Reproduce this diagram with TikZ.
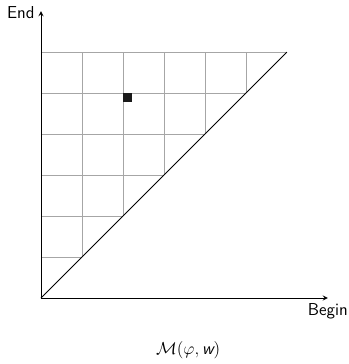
\documentclass[tikz,border=0pt]{standalone}
\usepackage{amsmath, amssymb}
\usepackage{xcolor}
\usepackage{tikz}
\usetikzlibrary{calc, positioning}

\begin{document}
\begin{tikzpicture}[>=stealth, font=\sffamily\large]

    % =================================================================
    % 1. KHUNG VÀ TỌA ĐỘ CHÍNH
    % =================================================================
    \useasboundingbox (-1,-1.61) rectangle (7.51,7.27);
    \coordinate (O) at (0,0);
    \coordinate (XEnd) at (7,0);
    \coordinate (YEnd) at (0,7);
    \coordinate (Corner) at (6,6);

    % =================================================================
    % 2. LƯỚI Ô VUÔNG (CHỈ PHẦN TAM GIÁC TRÊN)
    % =================================================================
    \begin{scope}
        \clip (O) -- (Corner) -- (0,6) -- cycle;
        \draw[gray!70, thin] (O) grid (Corner);
    \end{scope}

    % Đường chéo
    \draw[semithick] (O) -- (Corner);

    % Ô được đánh dấu
    \fill[black!90] (2,5) rectangle (2.22,4.78);

    % =================================================================
    % 3. HAI TRỤC VÀ NHÃN
    % =================================================================
    \draw[semithick, ->] (O) -- (XEnd);
    \draw[semithick, ->] (O) -- (YEnd);

    \node[below=0pt] (begin) at (XEnd) {Begin};
    \node[left=1pt, yshift=-1pt] (end) at (YEnd) {End};

    \node (caption) at (3.59,-1.27) {$\mathcal{M}(\varphi, \text{\sffamily\itshape w})$};

\end{tikzpicture}
\end{document}
